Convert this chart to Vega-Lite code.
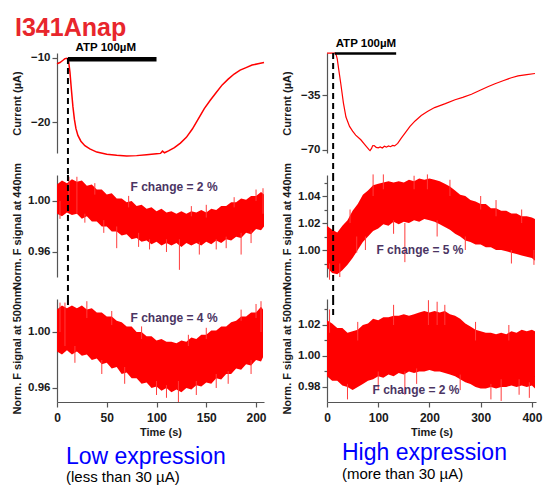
{
"$schema":"https://vega.github.io/schema/vega-lite/v6.json",
"padding":{"left":10,"top":16,"right":4,"bottom":2},
"title":{"text":"I341Anap","anchor":"start","frame":"group","dx":-42,"fontSize":25,"font":"Liberation Sans","fontWeight":"bold","color":"#e8262c","offset":-3},
"config":{"view":{"stroke":null},"font":"Liberation Sans",
 "axis":{"grid":false,"domainColor":"#555","tickColor":"#555","labelColor":"#1a1a1a","labelFont":"Liberation Sans","labelFontWeight":"bold","labelFontSize":11.5,"titleFont":"Liberation Sans","titleFontWeight":"bold","titleFontSize":11,"titleColor":"#1a1a1a","tickSize":5,"labelPadding":2,"domainWidth":1.2,"tickWidth":1.2,"labelFlush":false},
 "axisY":{"titleX":-40,"titleBaseline":"middle"},
 "axisX":{"labelFontSize":12,"titleFontSize":11,"labelPadding":5,"titlePadding":3},
 "text":{"font":"Liberation Sans"}},
"datasets":{
"curL":[{"t":0,"y":-10.9},{"t":3,"y":-10.7},{"t":6,"y":-10.35},{"t":8,"y":-10.1},{"t":10,"y":-10.05},{"t":11.5,"y":-10.3},{"t":13,"y":-12.2},{"t":14.5,"y":-15},{"t":16,"y":-17.6},{"t":17.5,"y":-19.6},{"t":19,"y":-21},{"t":21,"y":-22.1},{"t":24,"y":-23},{"t":28,"y":-23.7},{"t":33,"y":-24.2},{"t":40,"y":-24.7},{"t":50,"y":-25.05},{"t":60,"y":-25.2},{"t":70,"y":-25.3},{"t":80,"y":-25.25},{"t":90,"y":-25.1},{"t":100,"y":-24.95},{"t":104,"y":-24.9},{"t":106,"y":-24.55},{"t":108,"y":-24.8},{"t":112,"y":-24.5},{"t":118,"y":-24.0},{"t":124,"y":-23.3},{"t":130,"y":-22.4},{"t":136,"y":-21.1},{"t":142,"y":-19.5},{"t":148,"y":-17.9},{"t":154,"y":-16.6},{"t":160,"y":-15.4},{"t":166,"y":-14.2},{"t":172,"y":-13.3},{"t":178,"y":-12.5},{"t":184,"y":-11.9},{"t":190,"y":-11.5},{"t":196,"y":-11.1},{"t":202,"y":-10.9},{"t":208,"y":-10.7}],
"curR":[{"t":0,"y":-8.3},{"t":10,"y":-8.3},{"t":16,"y":-8.4},{"t":18,"y":-9.5},{"t":20,"y":-12},{"t":23,"y":-19},{"t":27,"y":-28},{"t":32,"y":-40},{"t":37,"y":-49},{"t":44,"y":-55},{"t":50,"y":-58},{"t":56,"y":-60.5},{"t":66,"y":-63.5},{"t":75,"y":-67},{"t":82,"y":-69.8},{"t":84,"y":-70.4},{"t":87,"y":-69},{"t":89,"y":-67.3},{"t":92,"y":-67.2},{"t":96,"y":-68.3},{"t":100,"y":-68.6},{"t":104,"y":-68},{"t":108,"y":-68.7},{"t":112,"y":-67.6},{"t":116,"y":-68.2},{"t":120,"y":-67.4},{"t":124,"y":-67.9},{"t":128,"y":-67.1},{"t":132,"y":-67.4},{"t":138,"y":-65.8},{"t":145,"y":-62.5},{"t":153,"y":-59},{"t":162,"y":-55},{"t":172,"y":-51.5},{"t":184,"y":-48},{"t":196,"y":-45.5},{"t":210,"y":-43},{"t":231,"y":-40.5},{"t":250,"y":-38},{"t":265,"y":-36.5},{"t":282,"y":-34.5},{"t":300,"y":-31.8},{"t":315,"y":-29.6},{"t":328,"y":-27.8},{"t":345,"y":-25.8},{"t":360,"y":-24},{"t":373,"y":-22.8},{"t":390,"y":-22},{"t":406,"y":-21.3}],
"atpL":[{"t":11,"t2":100,"y":-10.2,"tx":49,"ty":-8.44,"label":"ATP 100µM"}],
"atpR":[{"t":15,"t2":135,"y":-8.6,"tx":76,"ty":-2.55,"label":"ATP 100µM"}],
"dashL1":[{"t":11,"y":-10,"y2":-28.28}],
"dashL2":[{"t":11,"y":1.02039,"y2":0.92314}],
"dashL3":[{"t":11,"y":1.02357,"y2":1.01714}],
"dashR1":[{"t":12,"y":-8.27,"y2":-85.91}],
"dashR2":[{"t":12,"y":1.05556,"y2":0.9637}],
"dashR3":[{"t":12,"y":1.03677,"y2":1.02387}],
"noteL2":[{"t":117.6,"y":1.011,"label":"F change = 2 %"}],
"noteL3":[{"t":117.6,"y":1.010,"label":"F change = 4 %"}],
"noteR2":[{"t":181.5,"y":1.000,"label":"F change = 5 %"}],
"noteR3":[{"t":173.7,"y":0.978,"label":"F change = 2 %"}],
"bandL2":[{"t":0,"y":0.990,"y2":1.013},{"t":5,"y":0.988,"y2":1.016},{"t":10,"y":0.991,"y2":1.014},{"t":15,"y":0.989,"y2":1.017},{"t":20,"y":0.990,"y2":1.015},{"t":25,"y":0.986,"y2":1.016},{"t":30,"y":0.988,"y2":1.012},{"t":35,"y":0.984,"y2":1.013},{"t":40,"y":0.984,"y2":1.009},{"t":45,"y":0.980,"y2":1.009},{"t":50,"y":0.980,"y2":1.005},{"t":55,"y":0.976,"y2":1.006},{"t":60,"y":0.976,"y2":1.002},{"t":65,"y":0.973,"y2":1.002},{"t":70,"y":0.974,"y2":0.999},{"t":75,"y":0.970,"y2":1.000},{"t":80,"y":0.971,"y2":0.996},{"t":85,"y":0.968,"y2":0.997},{"t":90,"y":0.969,"y2":0.994},{"t":95,"y":0.966,"y2":0.995},{"t":100,"y":0.968,"y2":0.992},{"t":105,"y":0.965,"y2":0.994},{"t":110,"y":0.967,"y2":0.991},{"t":115,"y":0.965,"y2":0.992},{"t":120,"y":0.967,"y2":0.990},{"t":125,"y":0.964,"y2":0.992},{"t":130,"y":0.967,"y2":0.990},{"t":135,"y":0.965,"y2":0.992},{"t":140,"y":0.967,"y2":0.991},{"t":145,"y":0.965,"y2":0.993},{"t":150,"y":0.968,"y2":0.991},{"t":155,"y":0.966,"y2":0.994},{"t":160,"y":0.969,"y2":0.993},{"t":165,"y":0.967,"y2":0.996},{"t":170,"y":0.970,"y2":0.996},{"t":175,"y":0.969,"y2":0.999},{"t":180,"y":0.972,"y2":0.999},{"t":185,"y":0.971,"y2":1.002},{"t":190,"y":0.975,"y2":1.001},{"t":195,"y":0.974,"y2":1.004},{"t":200,"y":0.978,"y2":1.004},{"t":205,"y":0.977,"y2":1.007},{"t":208,"y":0.980,"y2":1.005}],
"spikeL2":[{"t":3,"y":0.986,"y2":1.0},{"t":12,"y":1.0,"y2":1.019},{"t":20,"y":0.99,"y2":1.019},{"t":28,"y":0.983,"y2":0.99},{"t":38,"y":1.005,"y2":1.014},{"t":47,"y":0.975,"y2":0.985},{"t":60,"y":0.963,"y2":0.98},{"t":72,"y":0.995,"y2":1.004},{"t":82,"y":0.964,"y2":0.975},{"t":93,"y":0.962,"y2":0.97},{"t":110,"y":0.96,"y2":0.97},{"t":123,"y":0.946,"y2":0.97},{"t":135,"y":0.988,"y2":0.996},{"t":143,"y":0.958,"y2":0.968},{"t":150,"y":0.987,"y2":0.997},{"t":160,"y":0.962,"y2":0.97},{"t":170,"y":0.963,"y2":0.972},{"t":178,"y":0.995,"y2":1.003},{"t":185,"y":0.958,"y2":0.975},{"t":195,"y":0.967,"y2":0.977},{"t":200,"y":1.0,"y2":1.009},{"t":207,"y":0.99,"y2":1.010}],
"bandL3":[{"t":0,"y":0.986,"y2":1.016},{"t":5,"y":0.984,"y2":1.019},{"t":10,"y":0.987,"y2":1.017},{"t":15,"y":0.984,"y2":1.019},{"t":20,"y":0.986,"y2":1.017},{"t":25,"y":0.983,"y2":1.019},{"t":30,"y":0.984,"y2":1.016},{"t":35,"y":0.980,"y2":1.017},{"t":40,"y":0.981,"y2":1.014},{"t":45,"y":0.977,"y2":1.014},{"t":50,"y":0.978,"y2":1.011},{"t":55,"y":0.974,"y2":1.011},{"t":60,"y":0.975,"y2":1.008},{"t":65,"y":0.970,"y2":1.007},{"t":70,"y":0.971,"y2":1.004},{"t":75,"y":0.967,"y2":1.004},{"t":80,"y":0.967,"y2":1.000},{"t":85,"y":0.963,"y2":1.000},{"t":90,"y":0.964,"y2":0.997},{"t":95,"y":0.960,"y2":0.997},{"t":100,"y":0.961,"y2":0.994},{"t":105,"y":0.958,"y2":0.995},{"t":110,"y":0.960,"y2":0.993},{"t":115,"y":0.957,"y2":0.993},{"t":120,"y":0.959,"y2":0.992},{"t":125,"y":0.957,"y2":0.994},{"t":130,"y":0.960,"y2":0.993},{"t":135,"y":0.959,"y2":0.996},{"t":140,"y":0.962,"y2":0.995},{"t":145,"y":0.961,"y2":0.998},{"t":150,"y":0.964,"y2":0.998},{"t":155,"y":0.963,"y2":1.001},{"t":160,"y":0.967,"y2":1.001},{"t":165,"y":0.966,"y2":1.004},{"t":170,"y":0.970,"y2":1.004},{"t":175,"y":0.970,"y2":1.007},{"t":180,"y":0.974,"y2":1.008},{"t":185,"y":0.973,"y2":1.011},{"t":190,"y":0.977,"y2":1.011},{"t":195,"y":0.976,"y2":1.014},{"t":200,"y":0.980,"y2":1.014},{"t":205,"y":0.979,"y2":1.018},{"t":207,"y":0.982,"y2":1.016}],
"spikeL3":[{"t":3,"y":1.0,"y2":1.021},{"t":8,"y":0.99,"y2":1.021},{"t":18,"y":0.978,"y2":0.99},{"t":30,"y":1.01,"y2":1.022},{"t":45,"y":0.970,"y2":0.98},{"t":55,"y":1.005,"y2":1.015},{"t":68,"y":0.963,"y2":0.975},{"t":85,"y":0.995,"y2":1.004},{"t":100,"y":0.955,"y2":0.965},{"t":110,"y":0.953,"y2":0.962},{"t":122,"y":0.950,"y2":0.965},{"t":132,"y":0.99,"y2":0.998},{"t":140,"y":0.955,"y2":0.965},{"t":150,"y":0.995,"y2":1.003},{"t":160,"y":0.960,"y2":0.97},{"t":172,"y":0.963,"y2":0.972},{"t":185,"y":1.008,"y2":1.016},{"t":195,"y":0.97,"y2":0.98},{"t":200,"y":1.01,"y2":1.02},{"t":205,"y":1.0,"y2":1.022}],
"bandR2":[{"t":0,"y":0.987,"y2":1.018},{"t":10,"y":0.983,"y2":1.015},{"t":20,"y":0.982,"y2":1.013},{"t":30,"y":0.985,"y2":1.018},{"t":40,"y":0.989,"y2":1.022},{"t":50,"y":0.994,"y2":1.029},{"t":60,"y":1.000,"y2":1.034},{"t":70,"y":1.006,"y2":1.041},{"t":80,"y":1.010,"y2":1.044},{"t":90,"y":1.014,"y2":1.048},{"t":100,"y":1.016,"y2":1.049},{"t":110,"y":1.019,"y2":1.050},{"t":120,"y":1.018,"y2":1.051},{"t":130,"y":1.021,"y2":1.050},{"t":140,"y":1.019,"y2":1.051},{"t":150,"y":1.021,"y2":1.050},{"t":160,"y":1.020,"y2":1.052},{"t":170,"y":1.022,"y2":1.051},{"t":180,"y":1.021,"y2":1.053},{"t":190,"y":1.023,"y2":1.052},{"t":200,"y":1.022,"y2":1.053},{"t":210,"y":1.021,"y2":1.052},{"t":220,"y":1.019,"y2":1.051},{"t":230,"y":1.017,"y2":1.049},{"t":240,"y":1.015,"y2":1.047},{"t":250,"y":1.012,"y2":1.044},{"t":260,"y":1.010,"y2":1.041},{"t":270,"y":1.007,"y2":1.040},{"t":280,"y":1.006,"y2":1.037},{"t":290,"y":1.004,"y2":1.036},{"t":300,"y":1.004,"y2":1.034},{"t":310,"y":1.002,"y2":1.034},{"t":320,"y":1.002,"y2":1.031},{"t":330,"y":1.000,"y2":1.031},{"t":340,"y":1.000,"y2":1.029},{"t":350,"y":0.999,"y2":1.029},{"t":360,"y":0.998,"y2":1.027},{"t":370,"y":0.997,"y2":1.027},{"t":380,"y":0.996,"y2":1.025},{"t":390,"y":0.995,"y2":1.025},{"t":400,"y":0.994,"y2":1.024},{"t":406,"y":0.992,"y2":1.023}],
"spikeR2":[{"t":5,"y":0.978,"y2":0.99},{"t":25,"y":0.98,"y2":0.99},{"t":45,"y":1.02,"y2":1.03},{"t":58,"y":0.998,"y2":1.01},{"t":75,"y":1.0,"y2":1.01},{"t":90,"y":1.04,"y2":1.056},{"t":110,"y":1.045,"y2":1.056},{"t":130,"y":1.012,"y2":1.022},{"t":152,"y":0.991,"y2":1.02},{"t":170,"y":1.045,"y2":1.055},{"t":196,"y":1.045,"y2":1.056},{"t":215,"y":1.01,"y2":1.022},{"t":240,"y":1.04,"y2":1.052},{"t":270,"y":1.0,"y2":1.01},{"t":300,"y":1.03,"y2":1.04},{"t":330,"y":1.025,"y2":1.037},{"t":360,"y":0.99,"y2":1.0},{"t":380,"y":1.02,"y2":1.03},{"t":404,"y":0.989,"y2":1.0}],
"bandR3":[{"t":0,"y":0.987,"y2":1.023},{"t":10,"y":0.984,"y2":1.021},{"t":20,"y":0.984,"y2":1.018},{"t":30,"y":0.981,"y2":1.018},{"t":40,"y":0.980,"y2":1.015},{"t":50,"y":0.978,"y2":1.016},{"t":60,"y":0.980,"y2":1.017},{"t":70,"y":0.982,"y2":1.020},{"t":80,"y":0.984,"y2":1.021},{"t":90,"y":0.985,"y2":1.024},{"t":100,"y":0.987,"y2":1.023},{"t":110,"y":0.986,"y2":1.025},{"t":120,"y":0.988,"y2":1.025},{"t":130,"y":0.987,"y2":1.026},{"t":140,"y":0.989,"y2":1.026},{"t":150,"y":0.988,"y2":1.027},{"t":160,"y":0.990,"y2":1.026},{"t":170,"y":0.989,"y2":1.027},{"t":180,"y":0.990,"y2":1.028},{"t":190,"y":0.990,"y2":1.029},{"t":200,"y":0.991,"y2":1.028},{"t":210,"y":0.990,"y2":1.029},{"t":220,"y":0.990,"y2":1.028},{"t":230,"y":0.989,"y2":1.029},{"t":240,"y":0.988,"y2":1.027},{"t":250,"y":0.987,"y2":1.026},{"t":260,"y":0.985,"y2":1.024},{"t":270,"y":0.983,"y2":1.021},{"t":280,"y":0.982,"y2":1.019},{"t":290,"y":0.980,"y2":1.017},{"t":300,"y":0.979,"y2":1.016},{"t":310,"y":0.979,"y2":1.015},{"t":320,"y":0.980,"y2":1.015},{"t":330,"y":0.979,"y2":1.014},{"t":340,"y":0.980,"y2":1.015},{"t":350,"y":0.980,"y2":1.014},{"t":360,"y":0.981,"y2":1.016},{"t":370,"y":0.980,"y2":1.015},{"t":380,"y":0.981,"y2":1.017},{"t":390,"y":0.980,"y2":1.016},{"t":400,"y":0.981,"y2":1.017},{"t":406,"y":0.979,"y2":1.016}],
"spikeR3":[{"t":5,"y":1.015,"y2":1.03},{"t":40,"y":0.972,"y2":0.982},{"t":60,"y":1.01,"y2":1.022},{"t":100,"y":0.978,"y2":0.99},{"t":130,"y":1.02,"y2":1.033},{"t":152,"y":0.975,"y2":0.99},{"t":175,"y":0.982,"y2":0.992},{"t":198,"y":1.02,"y2":1.036},{"t":215,"y":1.02,"y2":1.035},{"t":230,"y":1.02,"y2":1.033},{"t":260,"y":0.978,"y2":0.988},{"t":290,"y":1.01,"y2":1.022},{"t":320,"y":0.972,"y2":0.982},{"t":340,"y":0.971,"y2":0.985},{"t":355,"y":1.01,"y2":1.02},{"t":375,"y":0.975,"y2":0.985},{"t":395,"y":0.973,"y2":0.983}]
},
"bounds":"flush",
"align":"each",
"columns":2,
"spacing":{"row":22,"column":63},
"concat":[
 {"width":207,"height":100,"resolve":{"axis":{"x":"independent","y":"independent"}},"layer":[
  {"data":{"name":"curL"},"mark":{"type":"line","color":"#ff0000","strokeWidth":1.5},
   "encoding":{"x":{"field":"t","type":"quantitative","scale":{"domain":[0,208],"nice":false,"zero":false},"axis":null},
    "y":{"field":"y","type":"quantitative","scale":{"domain":[-24.84,-9.22],"nice":false,"zero":false},"axis":{"orient":"left","values":[-10,-20],"title":"Current (µA)"}}}},
  {"data":{"name":"atpL"},"mark":{"type":"rule","color":"#000000","strokeWidth":4.5},
   "encoding":{"x":{"field":"t","type":"quantitative","scale":{"domain":[0,208],"nice":false,"zero":false},"axis":null},"x2":{"field":"t2"},
    "y":{"field":"y","type":"quantitative","scale":{"domain":[-24.84,-9.22],"nice":false,"zero":false},"axis":null}}},
  {"data":{"name":"dashL1"},"mark":{"type":"rule","color":"#000000","strokeWidth":2,"strokeDash":[6,4]},
   "encoding":{"x":{"field":"t","type":"quantitative","scale":{"domain":[0,208],"nice":false,"zero":false},"axis":null},
    "y":{"field":"y","type":"quantitative","scale":{"domain":[-24.84,-9.22],"nice":false,"zero":false},"axis":null},"y2":{"field":"y2"}}},
  {"data":{"name":"atpL"},"mark":{"type":"text","fontWeight":"bold","fontSize":11.5,"color":"#000000","baseline":"middle"},
   "encoding":{"x":{"field":"tx","type":"quantitative","scale":{"domain":[0,208],"nice":false,"zero":false},"axis":null},
    "y":{"field":"ty","type":"quantitative","scale":{"domain":[-24.84,-9.22],"nice":false,"zero":false},"axis":null},"text":{"field":"label"}}}
 ]},
 {"width":209,"height":100,"resolve":{"axis":{"x":"independent","y":"independent"}},"layer":[
  {"data":{"name":"curR"},"mark":{"type":"line","color":"#ff0000","strokeWidth":1.2},
   "encoding":{"x":{"field":"t","type":"quantitative","scale":{"domain":[0,408],"nice":false,"zero":false},"axis":null},
    "y":{"field":"y","type":"quantitative","scale":{"domain":[-71.91,-8.27],"nice":false,"zero":false},"axis":{"orient":"left","values":[-35,-70],"title":"Current (µA)"}}}},
  {"data":{"name":"atpR"},"mark":{"type":"rule","color":"#000000","strokeWidth":2.5},
   "encoding":{"x":{"field":"t","type":"quantitative","scale":{"domain":[0,408],"nice":false,"zero":false},"axis":null},"x2":{"field":"t2"},
    "y":{"field":"y","type":"quantitative","scale":{"domain":[-71.91,-8.27],"nice":false,"zero":false},"axis":null}}},
  {"data":{"name":"dashR1"},"mark":{"type":"rule","color":"#000000","strokeWidth":2,"strokeDash":[6,4]},
   "encoding":{"x":{"field":"t","type":"quantitative","scale":{"domain":[0,408],"nice":false,"zero":false},"axis":null},
    "y":{"field":"y","type":"quantitative","scale":{"domain":[-71.91,-8.27],"nice":false,"zero":false},"axis":null},"y2":{"field":"y2"}}},
  {"data":{"name":"atpR"},"mark":{"type":"text","fontWeight":"bold","fontSize":11.5,"color":"#000000","baseline":"middle"},
   "encoding":{"x":{"field":"tx","type":"quantitative","scale":{"domain":[0,408],"nice":false,"zero":false},"axis":null},
    "y":{"field":"ty","type":"quantitative","scale":{"domain":[-71.91,-8.27],"nice":false,"zero":false},"axis":null},"text":{"field":"label"}}}
 ]},
 {"width":207,"height":102,"resolve":{"axis":{"x":"independent","y":"independent"}},"layer":[
  {"data":{"name":"bandL2"},"mark":{"type":"area","color":"#ff0000"},
   "encoding":{"x":{"field":"t","type":"quantitative","scale":{"domain":[0,208],"nice":false,"zero":false},"axis":null},
    "y":{"field":"y","type":"quantitative","scale":{"domain":[0.94039,1.02039],"nice":false,"zero":false},"axis":{"orient":"left","values":[1.0,0.96],"format":".2f","title":"Norm. F signal at 440nm"}},"y2":{"field":"y2"}}},
  {"data":{"name":"spikeL2"},"mark":{"type":"rule","color":"#ff3b3b","strokeWidth":1},
   "encoding":{"x":{"field":"t","type":"quantitative","scale":{"domain":[0,208],"nice":false,"zero":false},"axis":null},
    "y":{"field":"y","type":"quantitative","scale":{"domain":[0.94039,1.02039],"nice":false,"zero":false},"axis":null},"y2":{"field":"y2"}}},
  {"data":{"name":"dashL2"},"mark":{"type":"rule","color":"#000000","strokeWidth":2,"strokeDash":[6,4]},
   "encoding":{"x":{"field":"t","type":"quantitative","scale":{"domain":[0,208],"nice":false,"zero":false},"axis":null},
    "y":{"field":"y","type":"quantitative","scale":{"domain":[0.94039,1.02039],"nice":false,"zero":false},"axis":null},"y2":{"field":"y2"}}},
  {"data":{"name":"noteL2"},"mark":{"type":"text","fontWeight":"bold","fontSize":12,"color":"#4b3563","baseline":"middle"},
   "encoding":{"x":{"field":"t","type":"quantitative","scale":{"domain":[0,208],"nice":false,"zero":false},"axis":null},
    "y":{"field":"y","type":"quantitative","scale":{"domain":[0.94039,1.02039],"nice":false,"zero":false},"axis":null},"text":{"field":"label"}}}
 ]},
 {"width":209,"height":102,"resolve":{"axis":{"x":"independent","y":"independent"}},"layer":[
  {"data":{"name":"bandR2"},"mark":{"type":"area","color":"#ff0000"},
   "encoding":{"x":{"field":"t","type":"quantitative","scale":{"domain":[0,408],"nice":false,"zero":false},"axis":null},
    "y":{"field":"y","type":"quantitative","scale":{"domain":[0.98,1.05556],"nice":false,"zero":false},"axis":{"orient":"left","values":[1.04,1.02,1.0],"format":".2f","title":"Norm. F signal at 440nm"}},"y2":{"field":"y2"}}},
  {"data":{"name":"spikeR2"},"mark":{"type":"rule","color":"#ff3b3b","strokeWidth":1},
   "encoding":{"x":{"field":"t","type":"quantitative","scale":{"domain":[0,408],"nice":false,"zero":false},"axis":null},
    "y":{"field":"y","type":"quantitative","scale":{"domain":[0.98,1.05556],"nice":false,"zero":false},"axis":{"orient":"left","values":[0.99,1.01,1.03,1.05],"labels":false,"domain":false,"tickSize":3,"title":null}},"y2":{"field":"y2"}}},
  {"data":{"name":"dashR2"},"mark":{"type":"rule","color":"#000000","strokeWidth":2,"strokeDash":[6,4]},
   "encoding":{"x":{"field":"t","type":"quantitative","scale":{"domain":[0,408],"nice":false,"zero":false},"axis":null},
    "y":{"field":"y","type":"quantitative","scale":{"domain":[0.98,1.05556],"nice":false,"zero":false},"axis":null},"y2":{"field":"y2"}}},
  {"data":{"name":"noteR2"},"mark":{"type":"text","fontWeight":"bold","fontSize":12,"color":"#4b3563","baseline":"middle"},
   "encoding":{"x":{"field":"t","type":"quantitative","scale":{"domain":[0,408],"nice":false,"zero":false},"axis":null},
    "y":{"field":"y","type":"quantitative","scale":{"domain":[0.98,1.05556],"nice":false,"zero":false},"axis":null},"text":{"field":"label"}}}
 ]},
 {"width":207,"height":103,"resolve":{"axis":{"x":"independent","y":"independent"}},
  "title":{"text":"Low expression","subtitle":"(less than 30 µA)","orient":"bottom","anchor":"start","frame":"group","dx":9,"offset":9,"fontSize":23,"fontWeight":"normal","font":"Liberation Sans","color":"#0000ff","subtitleFontSize":15,"subtitleFont":"Liberation Sans","subtitleColor":"#000000","subtitlePadding":1},
  "layer":[
  {"data":{"name":"bandL3"},"mark":{"type":"area","color":"#ff0000"},
   "encoding":{"x":{"field":"t","type":"quantitative","scale":{"domain":[0,208],"nice":false,"zero":false},"axis":{"orient":"bottom","values":[0,50,100,150,200],"title":"Time (s)"}},
    "y":{"field":"y","type":"quantitative","scale":{"domain":[0.95,1.02357],"nice":false,"zero":false},"axis":{"orient":"left","values":[1.0,0.96],"format":".2f","title":"Norm. F signal at 500nm"}},"y2":{"field":"y2"}}},
  {"data":{"name":"spikeL3"},"mark":{"type":"rule","color":"#ff3b3b","strokeWidth":1},
   "encoding":{"x":{"field":"t","type":"quantitative","scale":{"domain":[0,208],"nice":false,"zero":false},"axis":null},
    "y":{"field":"y","type":"quantitative","scale":{"domain":[0.95,1.02357],"nice":false,"zero":false},"axis":null},"y2":{"field":"y2"}}},
  {"data":{"name":"dashL3"},"mark":{"type":"rule","color":"#000000","strokeWidth":2,"strokeDash":[6,4]},
   "encoding":{"x":{"field":"t","type":"quantitative","scale":{"domain":[0,208],"nice":false,"zero":false},"axis":null},
    "y":{"field":"y","type":"quantitative","scale":{"domain":[0.95,1.02357],"nice":false,"zero":false},"axis":null},"y2":{"field":"y2"}}},
  {"data":{"name":"noteL3"},"mark":{"type":"text","fontWeight":"bold","fontSize":12,"color":"#4b3563","baseline":"middle"},
   "encoding":{"x":{"field":"t","type":"quantitative","scale":{"domain":[0,208],"nice":false,"zero":false},"axis":null},
    "y":{"field":"y","type":"quantitative","scale":{"domain":[0.95,1.02357],"nice":false,"zero":false},"axis":null},"text":{"field":"label"}}}
 ]},
 {"width":209,"height":103,"resolve":{"axis":{"x":"independent","y":"independent"}},
  "title":{"text":"High expression","subtitle":"(more than 30 µA)","orient":"bottom","anchor":"start","frame":"group","dx":15,"offset":5,"fontSize":23,"fontWeight":"normal","font":"Liberation Sans","color":"#0000ff","subtitleFontSize":15,"subtitleFont":"Liberation Sans","subtitleColor":"#000000","subtitlePadding":2},
  "layer":[
  {"data":{"name":"bandR3"},"mark":{"type":"area","color":"#ff0000"},
   "encoding":{"x":{"field":"t","type":"quantitative","scale":{"domain":[0,408],"nice":false,"zero":false},"axis":{"orient":"bottom","values":[0,100,200,300,400],"title":"Time (s)"}},
    "y":{"field":"y","type":"quantitative","scale":{"domain":[0.97032,1.03677],"nice":false,"zero":false},"axis":{"orient":"left","values":[1.02,1.0,0.98],"format":".2f","title":"Norm. F signal at 500nm"}},"y2":{"field":"y2"}}},
  {"data":{"name":"spikeR3"},"mark":{"type":"rule","color":"#ff3b3b","strokeWidth":1},
   "encoding":{"x":{"field":"t","type":"quantitative","scale":{"domain":[0,408],"nice":false,"zero":false},"axis":null},
    "y":{"field":"y","type":"quantitative","scale":{"domain":[0.97032,1.03677],"nice":false,"zero":false},"axis":{"orient":"left","values":[0.99,1.01,1.03],"labels":false,"domain":false,"tickSize":3,"title":null}},"y2":{"field":"y2"}}},
  {"data":{"name":"dashR3"},"mark":{"type":"rule","color":"#000000","strokeWidth":2,"strokeDash":[6,4]},
   "encoding":{"x":{"field":"t","type":"quantitative","scale":{"domain":[0,408],"nice":false,"zero":false},"axis":null},
    "y":{"field":"y","type":"quantitative","scale":{"domain":[0.97032,1.03677],"nice":false,"zero":false},"axis":null},"y2":{"field":"y2"}}},
  {"data":{"name":"noteR3"},"mark":{"type":"text","fontWeight":"bold","fontSize":12,"color":"#4b3563","baseline":"middle"},
   "encoding":{"x":{"field":"t","type":"quantitative","scale":{"domain":[0,408],"nice":false,"zero":false},"axis":null},
    "y":{"field":"y","type":"quantitative","scale":{"domain":[0.97032,1.03677],"nice":false,"zero":false},"axis":null},"text":{"field":"label"}}}
 ]}
]
}
